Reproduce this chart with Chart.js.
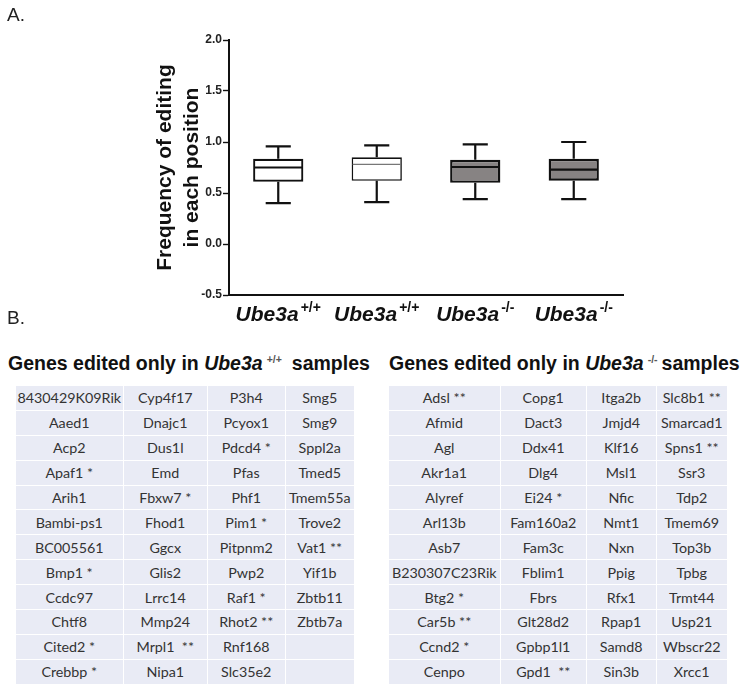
<!DOCTYPE html>
<html><head><meta charset="utf-8">
<script src="https://cdn.jsdelivr.net/npm/chart.js@4.4.1/dist/chart.umd.min.js"></script>
<style>
html,body{margin:0;padding:0;background:#fff;}
body{width:743px;height:685px;position:relative;overflow:hidden;font-family:"Liberation Sans",Arial,sans-serif;}
#cv{position:absolute;left:0;top:0;}
.lab{position:absolute;font-size:19px;color:#222;line-height:22px;}
.ttl{position:absolute;top:348px;font-weight:bold;font-size:19.5px;line-height:22px;color:#111;white-space:nowrap;}
.ttl sup{font-weight:bold;font-size:10.5px;color:#555;vertical-align:7px;margin-left:4px;}
.ttl .s{margin-left:10px;}
table{position:absolute;top:385px;border-collapse:collapse;font-family:Lato,"Open Sans",sans-serif;font-size:14.3px;color:#333;}
td{background:#E9EBF5;border:1.5px solid #fff;height:23.9px;padding:0;text-align:center;white-space:pre;}
</style></head>
<body>
<canvas id="cv" width="743" height="330"></canvas>
<div class="lab" style="left:7px;top:4px;">A.</div>
<div class="lab" style="left:7px;top:307px;">B.</div>
<div class="ttl" style="left:8px;">Genes edited only in <i>Ube3a</i><sup>+/+</sup><span class="s">samples</span></div>
<div class="ttl" style="left:389px;">Genes edited only in <i>Ube3a</i><sup>-/-</sup><span class="s" style="margin-left:4px">samples</span></div>
<table id="tb1" style="left:15px;"></table>
<table id="tb2" style="left:388px;"></table>
<script>
// ---- Box plot data ----
const groups = ["Ube3a", "Ube3a", "Ube3a", "Ube3a"];
const groupSup = ["+/+", "+/+", "-/-", "-/-"];
const whiskerMin = [0.40, 0.41, 0.44, 0.44];
const q1 = [0.61, 0.62, 0.60, 0.62];
const median = [0.75, 0.78, 0.755, 0.73];
const q3 = [0.835, 0.85, 0.826, 0.836];
const whiskerMax = [0.957, 0.967, 0.976, 1.0];
const boxFill = ["#ffffff", "#ffffff", "#878383", "#878383"];
const yTicks = [-0.5, 0.0, 0.5, 1.0, 1.5, 2.0];

// ---- Table data ----
const wtCol1 = ["8430429K09Rik","Aaed1","Acp2","Apaf1 *","Arih1","Bambi-ps1","BC005561","Bmp1 *","Ccdc97","Chtf8","Cited2 *","Crebbp *"];
const wtCol2 = ["Cyp4f17","Dnajc1","Dus1l","Emd","Fbxw7 *","Fhod1","Ggcx","Glis2","Lrrc14","Mmp24","Mrpl1  **","Nipa1"];
const wtCol3 = ["P3h4","Pcyox1","Pdcd4 *","Pfas","Phf1","Pim1 *","Pitpnm2","Pwp2","Raf1 *","Rhot2 **","Rnf168","Slc35e2"];
const wtCol4 = ["Smg5","Smg9","Sppl2a","Tmed5","Tmem55a","Trove2","Vat1 **","Yif1b","Zbtb11","Zbtb7a","",""];
const koCol1 = ["Adsl **","Afmid","Agl","Akr1a1","Alyref","Arl13b","Asb7","B230307C23Rik","Btg2 *","Car5b **","Ccnd2 *","Cenpo"];
const koCol2 = ["Copg1","Dact3","Ddx41","Dlg4","Ei24 *","Fam160a2","Fam3c","Fblim1","Fbrs","Glt28d2","Gpbp1l1","Gpd1  **"];
const koCol3 = ["Itga2b","Jmjd4","Klf16","Msl1","Nfic","Nmt1","Nxn","Ppig","Rfx1","Rpap1","Samd8","Sin3b"];
const koCol4 = ["Slc8b1 **","Smarcad1","Spns1 **","Ssr3","Tdp2","Tmem69","Top3b","Tpbg","Trmt44","Usp21","Wbscr22","Xrcc1"];

function buildTable(id, cols, widths){
  const t = document.getElementById(id);
  const n = cols[0].length;
  for(let r=0;r<n;r++){
    const tr = document.createElement('tr');
    cols.forEach((c,ci)=>{
      const td = document.createElement('td');
      td.textContent = c[r];
      td.style.width = widths[ci]+'px';
      tr.appendChild(td);
    });
    t.appendChild(tr);
  }
}
buildTable('tb1',[wtCol1,wtCol2,wtCol3,wtCol4],[106.5,83.5,76.5,68.5]);
buildTable('tb2',[koCol1,koCol2,koCol3,koCol4],[110.5,85.5,68.5,70.5]);

const boxPlugin = {
  id:'boxExtras',
  afterDatasetsDraw(chart){
    const ctx = chart.ctx, y = chart.scales.y;
    const meta = chart.getDatasetMeta(0);
    ctx.save();
    ctx.strokeStyle = '#111';
    meta.data.forEach((bar,i)=>{
      const x = bar.x, w = bar.width;
      ctx.lineWidth = 2.2;
      ctx.beginPath();
      ctx.moveTo(x, y.getPixelForValue(q3[i])); ctx.lineTo(x, y.getPixelForValue(whiskerMax[i]));
      ctx.moveTo(x, y.getPixelForValue(q1[i])); ctx.lineTo(x, y.getPixelForValue(whiskerMin[i]));
      const cw = w*0.5;
      ctx.moveTo(x-cw/2, y.getPixelForValue(whiskerMax[i])); ctx.lineTo(x+cw/2, y.getPixelForValue(whiskerMax[i]));
      ctx.moveTo(x-cw/2, y.getPixelForValue(whiskerMin[i])); ctx.lineTo(x+cw/2, y.getPixelForValue(whiskerMin[i]));
      ctx.stroke();
      ctx.lineWidth = i===1 ? 1.2 : 2.2;
      ctx.strokeStyle = i===1 ? '#777' : '#111';
      ctx.beginPath();
      ctx.moveTo(x-w/2+1, y.getPixelForValue(median[i])); ctx.lineTo(x+w/2-1, y.getPixelForValue(median[i]));
      ctx.stroke();
      ctx.strokeStyle = '#111';
    });
    // x labels with superscripts
    const xs = chart.scales.x;
    const mainFont = 'italic bold 21px "Liberation Sans", Arial, sans-serif';
    const supFont = 'bold 14px "Liberation Sans", Arial, sans-serif';
    groups.forEach((g,i)=>{
      const cx = xs.getPixelForValue(i);
      ctx.font = mainFont;
      const w1 = ctx.measureText(g).width;
      ctx.font = supFont;
      const w2 = ctx.measureText(groupSup[i]).width;
      const x0 = cx - (w1+w2+2)/2;
      ctx.fillStyle = '#111';
      ctx.textBaseline = 'alphabetic';
      ctx.textAlign = 'left';
      ctx.font = mainFont;
      ctx.fillText(g, x0, 321);
      ctx.font = supFont;
      ctx.fillText(groupSup[i], x0+w1+2, 312);
    });
    ctx.restore();
  }
};

new Chart(document.getElementById('cv'),{
  type:'bar',
  data:{
    labels: groups.map((g,i)=>g+groupSup[i]),
    datasets:[{
      data: q1.map((v,i)=>[v,q3[i]]),
      backgroundColor: boxFill,
      borderColor:'#111',
      borderWidth: [2.2,1.6,2.4,2.4],
      borderSkipped:false,
      barPercentage:0.51,
      categoryPercentage:1
    }]
  },
  options:{
    responsive:false,
    animation:false,
    events:[],
    layout:{padding:{top:40,right:120,left:152,bottom:0}},
    plugins:{legend:{display:false},tooltip:{enabled:false}},
    scales:{
      x:{
        grid:{display:false},
        border:{display:true,color:'#111',width:2},
        ticks:{display:false},
        afterFit(s){ s.height = 35; }
      },
      y:{
        min:-0.5,max:2.0,
        afterBuildTicks(s){ s.ticks = yTicks.map(v=>({value:v})); },
        ticks:{
          color:'#222',
          font:{family:'"Liberation Sans",Arial',size:12,weight:'bold'},
          padding:1,
          callback:v=>Number(v).toFixed(1)
        },
        grid:{drawOnChartArea:false,drawTicks:true,tickLength:6,color:'#111',tickWidth:1.4},
        border:{display:true,color:'#111',width:2},
        title:{
          display:true,
          text:['Frequency of editing','in each position'],
          font:{family:'"Liberation Sans",Arial',size:21,weight:'bold',lineHeight:1.29},
          color:'#111',
          padding:{top:0,bottom:0}
        },
        afterFit(s){ s.width = 77; }
      }
    }
  },
  plugins:[boxPlugin]
});
</script>
</body></html>
